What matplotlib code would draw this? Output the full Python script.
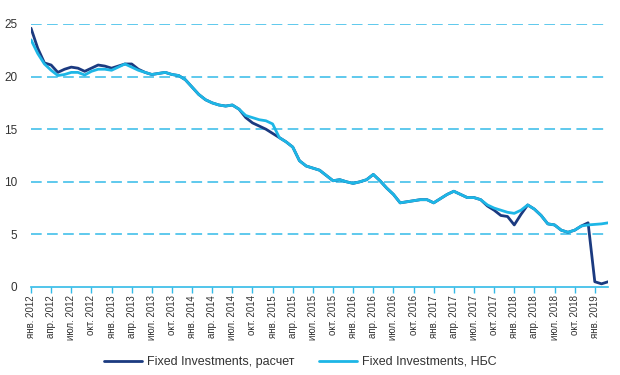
import matplotlib
matplotlib.use('Agg')
import matplotlib.pyplot as plt
import matplotlib.transforms as mtransforms

plt.rcParams['font.family'] = ['Liberation Sans', 'DejaVu Sans']

# monthly values, Jan 2012 .. Mar 2019
raschet = [24.6, 22.7, 21.3, 21.1, 20.4, 20.7, 20.9, 20.8, 20.5, 20.8,
           21.1, 21.0, 20.8, 21.0, 21.2, 21.2, 20.7, 20.4, 20.2, 20.3,
           20.4, 20.2, 20.1, 19.7, 19.0, 18.3, 17.8, 17.5, 17.3, 17.2,
           17.3, 16.9, 16.1, 15.6, 15.3, 15.0, 14.6, 14.2, 13.8, 13.3,
           12.0, 11.5, 11.3, 11.1, 10.6, 10.1, 10.2, 10.0, 9.85, 10.0,
           10.2, 10.7, 10.1, 9.4, 8.8, 8.0, 8.1, 8.2, 8.3, 8.3,
           8.0, 8.4, 8.8, 9.1, 8.8, 8.5, 8.5, 8.3, 7.7, 7.3,
           6.8, 6.7, 5.9, 6.9, 7.8, 7.4, 6.8, 6.0, 5.9, 5.4,
           5.2, 5.4, 5.8, 6.1, 0.5, 0.3, 0.5]
nbs = [23.5, 22.2, 21.2, 20.6, 20.1, 20.2, 20.4, 20.4, 20.15, 20.5,
       20.7, 20.7, 20.6, 20.9, 21.2, 20.9, 20.6, 20.4, 20.2, 20.3,
       20.4, 20.2, 20.1, 19.7, 19.0, 18.3, 17.8, 17.5, 17.3, 17.2,
       17.3, 16.9, 16.3, 16.1, 15.9, 15.8, 15.5, 14.2, 13.8, 13.3,
       12.0, 11.5, 11.3, 11.1, 10.6, 10.1, 10.2, 10.0, 9.85, 10.0,
       10.2, 10.7, 10.1, 9.4, 8.8, 8.0, 8.1, 8.2, 8.3, 8.3,
       8.0, 8.4, 8.8, 9.1, 8.8, 8.5, 8.5, 8.3, 7.8, 7.5,
       7.3, 7.1, 7.0, 7.3, 7.8, 7.4, 6.8, 6.0, 5.9, 5.4,
       5.2, 5.4, 5.8, 5.9, 5.95, 6.0, 6.1]

months = ['янв.', 'апр.', 'июл.', 'окт.']
years = list(range(2012, 2020))
tick_labels = [m + ' ' + str(y) for y in years for m in months][:29]

dark = '#1B3A80'
cyan = '#1DB6E6'
text_col = '#333333'

fig = plt.figure(figsize=(6.2, 3.75), dpi=100)
ax = fig.add_axes([0.05, 0.2347, 0.931, 0.7013])

x = list(range(len(raschet)))
ax.plot(x, raschet, color=dark, lw=2.0, label='Fixed Investments, расчет',
        solid_capstyle='round', solid_joinstyle='round')
ax.plot(x, nbs, color=cyan, lw=2.0, label='Fixed Investments, НБС',
        solid_capstyle='round', solid_joinstyle='round')

ax.set_ylim(0, 25)
ax.set_xlim(0, len(raschet) - 1)
ax.set_yticks([0, 5, 10, 15, 20, 25])
for v in [5, 10, 15, 20, 25]:
    ax.axhline(v, color='#33BBE8', lw=1.1, dashes=(7, 3.5), zorder=0)

ax.set_xticks(range(0, 3 * len(tick_labels), 3))
ax.set_xticklabels(tick_labels, rotation=90, fontsize=7, color=text_col,
                   va='top', ha='center')
offset = mtransforms.ScaledTranslation(4 / 100, 0, fig.dpi_scale_trans)
for lab in ax.get_xticklabels():
    lab.set_transform(lab.get_transform() + offset)
ax.tick_params(axis='x', length=4, width=1, color='#33BBE8', pad=2)
ax.tick_params(axis='y', length=0, labelsize=8.5, labelcolor=text_col, pad=10)

for s in ['top', 'right', 'left']:
    ax.spines[s].set_visible(False)
ax.spines['bottom'].set_color('#33BBE8')
ax.spines['bottom'].set_linewidth(1.2)

fig.legend(loc='center', bbox_to_anchor=(0.484, 0.035), ncol=2, frameon=False,
           fontsize=9, handlelength=3.0, handletextpad=0.4, columnspacing=2.0,
           labelcolor=text_col)

fig.savefig('out.png', dpi=100)
